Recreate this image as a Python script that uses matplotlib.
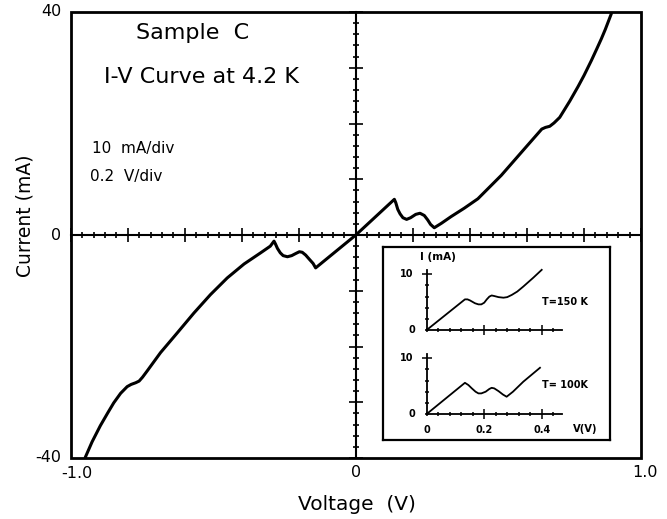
import matplotlib
matplotlib.use("Agg")
import matplotlib.pyplot as plt
from matplotlib.ticker import MultipleLocator

plt.rcParams['font.family'] = ['DejaVu Sans']

# ---- main I-V curve at 4.2 K (V in volts, I in mA) ----
voltage = [-0.949, -0.925, -0.896, -0.870, -0.849, -0.825, -0.802, -0.788, -0.772,
           -0.760, -0.748, -0.732, -0.685, -0.627, -0.568, -0.510, -0.451, -0.392,
           -0.334, -0.300, -0.287, -0.282, -0.275, -0.265, -0.255, -0.240, -0.225,
           -0.210, -0.198, -0.188, -0.176, -0.164, -0.150, -0.141, 0.0,
           0.135, 0.140, 0.147, 0.155, 0.165, 0.178, 0.192, 0.210, 0.225, 0.240,
           0.252, 0.262, 0.275, 0.300, 0.334, 0.380, 0.428, 0.510, 0.592, 0.640,
           0.652, 0.665, 0.680, 0.695, 0.715, 0.750, 0.779, 0.800, 0.826, 0.845,
           0.861, 0.875, 0.896]
current = [-39.9, -37.1, -34.2, -31.9, -30.1, -28.4, -27.2, -26.8, -26.5,
           -26.2, -25.5, -24.4, -21.1, -17.6, -14.0, -10.7, -7.7, -5.2,
           -3.2, -2.0, -1.1, -1.6, -2.4, -3.2, -3.7, -3.9, -3.7,
           -3.3, -3.0, -3.1, -3.6, -4.3, -5.1, -5.9, 0.0,
           6.4, 5.8, 4.6, 3.8, 3.1, 2.8, 3.1, 3.7, 3.9, 3.5,
           2.7, 1.9, 1.3, 2.1, 3.3, 4.8, 6.5, 10.7, 15.5, 18.3,
           19.0, 19.3, 19.5, 20.1, 21.1, 24.0, 26.6, 28.6, 31.3, 33.4,
           35.2, 36.9, 39.7]

# ---- inset curves ----
v_150 = [0, 0.133, 0.142, 0.151, 0.168, 0.180, 0.190, 0.200, 0.209, 0.218, 0.226,
         0.235, 0.250, 0.267, 0.280, 0.296, 0.315, 0.336, 0.371, 0.400]
i_150 = [0, 5.5, 5.5, 5.3, 4.8, 4.6, 4.6, 4.9, 5.5, 6.0, 6.2,
         6.1, 5.9, 5.8, 5.9, 6.3, 6.9, 7.8, 9.4, 10.8]
v_100 = [0, 0.133, 0.145, 0.157, 0.170, 0.180, 0.190, 0.205, 0.218, 0.226, 0.235,
         0.250, 0.265, 0.278, 0.300, 0.336, 0.394]
i_100 = [0, 5.6, 5.2, 4.6, 4.0, 3.7, 3.7, 4.0, 4.5, 4.7, 4.6,
         4.1, 3.5, 3.1, 4.0, 5.8, 8.3]

x_tick_labels = ["-1.0", "0", "1.0"]
y_tick_labels = ["-40", "0", "40"]
inset_x_labels = ["0", "0.2", "0.4"]

W, H = 667, 519
fig = plt.figure(figsize=(W / 100, H / 100), dpi=100)

def fx(px):
    return px / W

def fy(py):
    return (H - py) / H

# main axes: box from px 70.7..641, py 12..458
ax = fig.add_axes([fx(70.7), fy(458), fx(641) - fx(70.7), fy(12) - fy(458)])
ax.set_xlim(-1.0, 1.0)
ax.set_ylim(-40, 40)
for s in ['top', 'right']:
    ax.spines[s].set_visible(False)
ax.spines['left'].set_position(('data', 0))
ax.spines['bottom'].set_position(('data', 0))
ax.spines['left'].set_linewidth(1.5)
ax.spines['bottom'].set_linewidth(1.5)
ax.xaxis.set_major_locator(MultipleLocator(0.2))
ax.xaxis.set_minor_locator(MultipleLocator(0.04))
ax.yaxis.set_major_locator(MultipleLocator(10))
ax.yaxis.set_minor_locator(MultipleLocator(2))
ax.tick_params(which='major', direction='inout', length=9.5, width=1.2,
               labelbottom=False, labelleft=False)
ax.tick_params(which='minor', direction='inout', length=5, width=1.2)

# outer frame
frame = plt.Rectangle((0, 0), 1, 1, transform=ax.transAxes, fill=False,
                      lw=2.0, ec='black', clip_on=False, zorder=5)
ax.add_patch(frame)

ax.plot(voltage, current, color='black', lw=2.2, solid_joinstyle='round',
        solid_capstyle='round', zorder=4)

# outer tick labels
fs_tick = 11.5
ytr = ax.get_yaxis_transform()
xtr = ax.get_xaxis_transform()
ax.text(-0.016, 40, y_tick_labels[2], transform=ytr, ha='right', va='center', fontsize=fs_tick)
ax.text(-0.016, 0, y_tick_labels[1], transform=ytr, ha='right', va='center', fontsize=fs_tick)
ax.text(-0.016, -40, y_tick_labels[0], transform=ytr, ha='right', va='center', fontsize=fs_tick)
ax.text(-0.98, -0.034, x_tick_labels[0], transform=xtr, ha='center', va='center', fontsize=fs_tick)
ax.text(0.0, -0.032, x_tick_labels[1], transform=xtr, ha='center', va='center', fontsize=fs_tick)
ax.text(1.013, -0.032, x_tick_labels[2], transform=xtr, ha='center', va='center', fontsize=fs_tick)

# axis labels
fig.text(fx(357), fy(505), "Voltage  (V)", ha='center', va='center', fontsize=14.5)
fig.text(fx(25), fy(216), "Current (mA)", ha='center', va='center', fontsize=13.5,
         rotation=90)

# annotations
fig.text(fx(192.5), fy(33), "Sample  C", ha='center', va='center', fontsize=16)
fig.text(fx(201.7), fy(77), "I-V Curve at 4.2 K", ha='center', va='center', fontsize=16)
fig.text(fx(91.7), fy(149), "10  mA/div", ha='left', va='center', fontsize=11)
fig.text(fx(90), fy(177), "0.2  V/div", ha='left', va='center', fontsize=11)

# ---- inset box ----
box = fig.add_axes([fx(383), fy(440), fx(610) - fx(383), fy(247) - fy(440)])
box.set_xticks([])
box.set_yticks([])
for s in box.spines.values():
    s.set_linewidth(1.6)
box.set_facecolor('white')

def make_inset(py0, v, i, show_x_labels):
    px0 = 426.7
    sx = 287.5   # px per V
    sy = 5.57    # px per mA
    xmax, ymax = 0.47, 10.8
    a = fig.add_axes([fx(px0), fy(py0), sx * xmax / W, sy * ymax / H])
    a.patch.set_alpha(0)
    a.set_xlim(0, xmax)
    a.set_ylim(0, ymax)
    for s in ['top', 'right']:
        a.spines[s].set_visible(False)
    for s in ['left', 'bottom']:
        a.spines[s].set_linewidth(1.3)
    a.set_xticks([0.2, 0.4])
    a.xaxis.set_minor_locator(MultipleLocator(0.04))
    a.set_yticks([10])
    a.yaxis.set_minor_locator(MultipleLocator(2))
    a.tick_params(which='major', direction='inout', length=7, width=1.1,
                  labelbottom=False, labelleft=False)
    a.tick_params(which='minor', direction='inout', length=3, width=1.1)
    a.plot(v, i, color='black', lw=1.3, clip_on=False, solid_joinstyle='round')
    fs = 7
    a.text(-0.045, 10, "10", ha='right', va='center', fontsize=fs, fontweight='bold')
    a.text(-0.04, 0, "0", ha='right', va='center', fontsize=fs, fontweight='bold')
    if show_x_labels:
        for xv, lab in zip([0.0, 0.2, 0.4], inset_x_labels):
            a.text(xv, -2.8, lab, ha='center', va='center', fontsize=fs,
                   fontweight='bold')
    return a

ins1 = make_inset(330, v_150, i_150, False)
ins2 = make_inset(414, v_100, i_100, True)

fig.text(fx(438), fy(256.7), "I (mA)", ha='center', va='center', fontsize=7.5,
         fontweight='bold')
fig.text(fx(565), fy(302), "T=150 K", ha='center', va='center', fontsize=7,
         fontweight='bold')
fig.text(fx(565), fy(385), "T= 100K", ha='center', va='center', fontsize=7,
         fontweight='bold')
fig.text(fx(585), fy(429), "V(V)", ha='center', va='center', fontsize=7.2,
         fontweight='bold')

fig.savefig("out.png", dpi=100, facecolor='white')
